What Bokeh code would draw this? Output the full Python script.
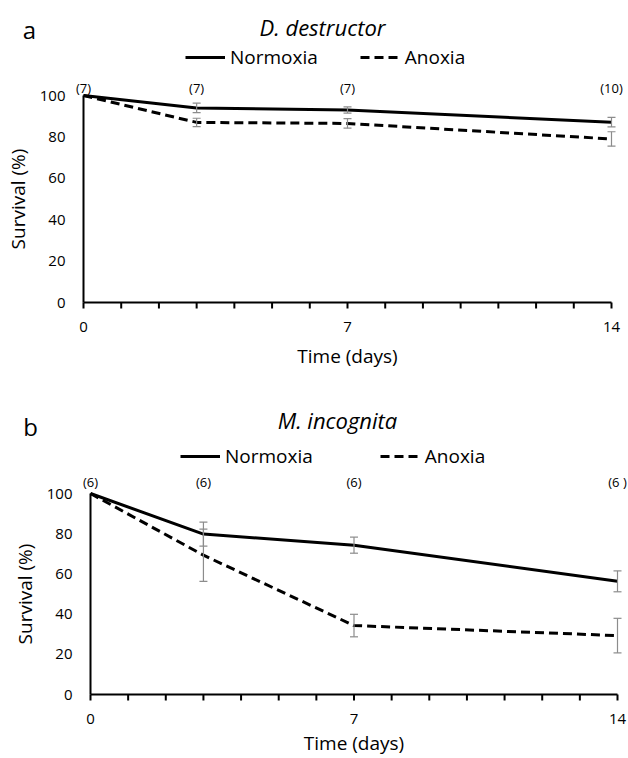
from bokeh.plotting import figure
from bokeh.layouts import column
from bokeh.models import (Range1d, FixedTicker, Label, LabelSet, Legend, LegendItem,
                          ColumnDataSource, Whisker, TeeHead)
from bokeh.core.properties import value
from bokeh.embed import file_html
from bokeh.resources import INLINE

# ---------------- data ----------------
days = [0, 3, 7, 14]
err_days = [3, 7, 14]
x_major_ticks = [0, 7, 14]
x_minor_ticks = list(range(0, 15))
y_ticks = [0, 20, 40, 60, 80, 100]

dd_normoxia = [100, 94.0, 93.0, 87.1]
dd_normoxia_err = [2.3, 1.5, 2.3]
dd_anoxia = [100, 87.0, 86.5, 79.0]
dd_anoxia_err = [2.0, 2.3, 3.5]
dd_counts = ["(7)", "(7)", "(7)", "(10)"]

mi_normoxia = [100, 79.8, 74.3, 56.3]
mi_normoxia_err = [6.0, 4.0, 5.2]
mi_anoxia = [100, 69.3, 34.3, 29.3]
mi_anoxia_err = [13.0, 5.6, 8.6]
mi_counts = ["(6)", "(6)", "(6)", "(6 )"]

FONT = "Open Sans"
ERR_COLOR = "#8c8c8c"
DASH = "9 5"
W = 628
TICK_PX = 6


def make_panel(letter, species, norm, norm_err, anox, anox_err, counts,
               height, px_x0, px_x14, px_y100, px_y0,
               title_dx, title_dy, letter_dx, letter_dy,
               legend_x, legend_bottom, legend_spacing, count_dy, xlabel_standoff):
    # the frame fills the whole canvas; axes are fixed at the data origin
    sx = (px_x14 - px_x0) / 14.0
    sy = (px_y0 - px_y100) / 100.0
    xr = Range1d(-px_x0 / sx, (W - px_x0) / sx)
    yr = Range1d(-(height - px_y0) / sy, 100 + px_y100 / sy)
    p = figure(width=W, height=height, output_backend="svg", toolbar_location=None,
               x_range=xr, y_range=yr,
               min_border_left=0, min_border_right=0,
               min_border_top=0, min_border_bottom=0)
    p.outline_line_color = None
    p.xgrid.grid_line_color = None
    p.ygrid.grid_line_color = None
    p.background_fill_color = "white"
    p.border_fill_color = "white"

    # error bars
    src_n = ColumnDataSource(dict(x=err_days,
                                  upper=[v + e for v, e in zip(norm[1:], norm_err)],
                                  lower=[v - e for v, e in zip(norm[1:], norm_err)]))
    src_a = ColumnDataSource(dict(x=err_days,
                                  upper=[v + e for v, e in zip(anox[1:], anox_err)],
                                  lower=[v - e for v, e in zip(anox[1:], anox_err)]))
    for src in (src_n, src_a):
        w = Whisker(base="x", upper="upper", lower="lower", source=src,
                    line_color=ERR_COLOR, line_width=1.2,
                    upper_head=TeeHead(size=8, line_color=ERR_COLOR, line_width=1.2),
                    lower_head=TeeHead(size=8, line_color=ERR_COLOR, line_width=1.2))
        w.level = "overlay"
        p.add_layout(w)

    # day tick marks below the time axis
    tick_len = TICK_PX / sy
    p.segment(x0=x_minor_ticks, x1=x_minor_ticks,
              y0=[0] * len(x_minor_ticks), y1=[-tick_len] * len(x_minor_ticks),
              line_color="black", line_width=2)

    r_n = p.line(days, norm, line_color="black", line_width=3)
    r_a = p.line(days, anox, line_color="black", line_width=3, line_dash=DASH)

    xa = p.xaxis[0]
    xa.ticker = FixedTicker(ticks=x_major_ticks, minor_ticks=[])
    xa.axis_label = "Time (days)"
    xa.fixed_location = 0
    xa.bounds = (0, 14)
    ya = p.yaxis[0]
    ya.ticker = FixedTicker(ticks=y_ticks, minor_ticks=[])
    ya.axis_label = "Survival (%)"
    ya.fixed_location = 0
    ya.bounds = (0, 100)
    for ax in (xa, ya):
        ax.axis_line_color = "black"
        ax.axis_line_width = 2
        ax.major_label_text_font = FONT
        ax.major_label_text_font_size = "15px"
        ax.major_label_text_color = "black"
        ax.axis_label_text_font = FONT
        ax.axis_label_text_font_size = "19px"
        ax.axis_label_text_font_style = "normal"
        ax.axis_label_text_color = "black"
        ax.major_tick_line_color = None
        ax.minor_tick_line_color = None
        ax.major_tick_in = 0
        ax.minor_tick_in = 0
        ax.major_tick_out = 0
        ax.minor_tick_out = 0
    xa.major_label_standoff = 19
    xa.axis_label_standoff = xlabel_standoff
    ya.major_label_standoff = 18
    ya.axis_label_standoff = 6

    legend = Legend(items=[LegendItem(label="Normoxia", renderers=[r_n]),
                           LegendItem(label="Anoxia", renderers=[r_a])],
                    orientation="horizontal", location=(legend_x, legend_bottom),
                    glyph_width=40, glyph_height=20, label_standoff=5,
                    spacing=legend_spacing, padding=0, margin=0,
                    border_line_color=None, background_fill_alpha=0,
                    label_text_font=FONT, label_text_font_size="19px",
                    label_text_color="black")
    p.add_layout(legend, "center")

    p.add_layout(Label(x=0, y=100, x_offset=title_dx, y_offset=title_dy, text=species,
                       text_font=FONT, text_font_size="22px", text_font_style="italic",
                       text_align="center", text_baseline="alphabetic", text_color="black"))
    p.add_layout(Label(x=0, y=100, x_offset=letter_dx, y_offset=letter_dy, text=letter,
                       text_font=FONT, text_font_size="24px",
                       text_align="center", text_baseline="alphabetic", text_color="black"))

    cnt_src = ColumnDataSource(dict(x=days, t=counts))
    p.add_layout(LabelSet(x="x", y=100, text="t", source=cnt_src, y_offset=count_dy,
                          text_font=value(FONT), text_font_size=value("13px"),
                          text_align="center", text_baseline="middle",
                          text_color="black"))
    return p


p1 = make_panel("a", "D. destructor", dd_normoxia, dd_normoxia_err, dd_anoxia, dd_anoxia_err,
                dd_counts, height=380, px_x0=83, px_x14=611, px_y100=95, px_y0=302,
                title_dx=239, title_dy=69, letter_dx=-54, letter_dy=66,
                legend_x=185, legend_bottom=310, legend_spacing=42, count_dy=8,
                xlabel_standoff=8)
p2 = make_panel("b", "M. incognita", mi_normoxia, mi_normoxia_err, mi_anoxia, mi_anoxia_err,
                mi_counts, height=378, px_x0=90, px_x14=617, px_y100=113, px_y0=314,
                title_dx=247, title_dy=74, letter_dx=-60, letter_dy=67,
                legend_x=180, legend_bottom=289, legend_spacing=67, count_dy=12,
                xlabel_standoff=3)

layout = column(p1, p2, spacing=0)
open("out.html", "w").write(file_html(layout, INLINE))
